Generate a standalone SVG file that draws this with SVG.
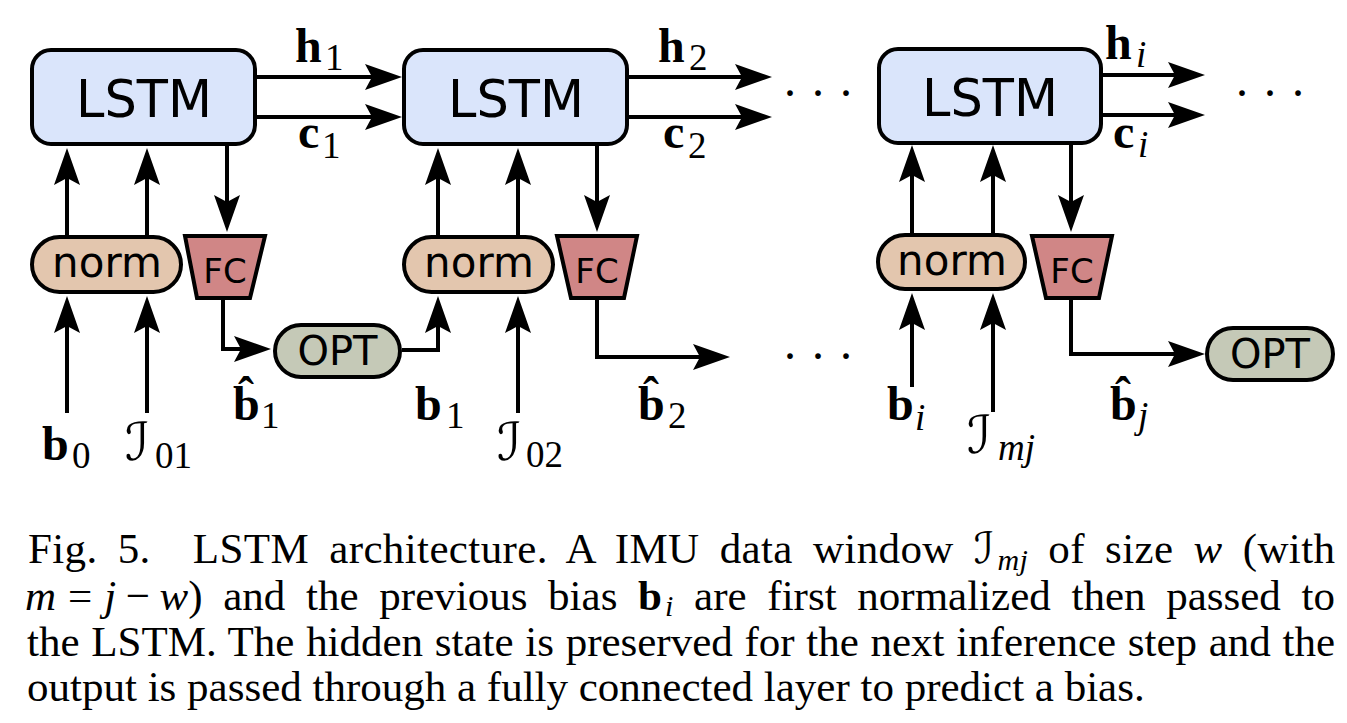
<svg xmlns="http://www.w3.org/2000/svg" width="1347" height="723" viewBox="0 0 1347 723">
<style>
.box{stroke:#000;stroke-width:4}
.lstm{fill:#dae5fb}
.norm{fill:#e3c6ae}
.fc{fill:#d08686}
.opt{fill:#c5c9b7}
.nt{font-family:"DejaVu Sans",sans-serif;fill:#000;text-anchor:middle}
.conn{fill:none;stroke:#000;stroke-width:4;marker-end:url(#ah)}
.m{font-family:"Liberation Serif",serif;font-weight:bold;font-size:48px}
.sub{font-family:"Liberation Serif",serif;font-size:37px;font-weight:normal}
.it{font-style:italic}
.cal{font-family:"DejaVu Sans",sans-serif;font-weight:normal}
.dots{font-family:"Liberation Serif",serif;font-size:48px;text-anchor:middle}
.cap{font-family:"Liberation Serif",serif;font-size:43px}
</style>
<defs>
<marker id="ah" markerUnits="userSpaceOnUse" viewBox="-30 -15 42 30" refX="0" refY="0" markerWidth="42" markerHeight="30" orient="auto" overflow="visible"><path d="M10,0 L-27,-13 L-20,0 L-27,13 Z" fill="#000"/></marker>
</defs>
<rect width="1347" height="723" fill="#fff"/>

<g id="lstm1"><rect class="box lstm" x="32" y="50" width="223" height="94" rx="19"/><text class="nt" x="144" y="117" font-size="51">LSTM</text></g>
<g id="lstm2"><rect class="box lstm" x="404" y="50" width="223" height="94" rx="19"/><text class="nt" x="516" y="117" font-size="51">LSTM</text></g>
<g id="lstm3"><rect class="box lstm" x="879" y="49" width="222" height="94" rx="19"/><text class="nt" x="990" y="116" font-size="51">LSTM</text></g>

<g id="norm1"><rect class="box norm" x="32" y="237" width="149" height="55" rx="27.5"/><text class="nt" x="107" y="277" font-size="42">norm</text></g>
<g id="norm2"><rect class="box norm" x="404" y="237" width="149" height="55" rx="27.5"/><text class="nt" x="479" y="277" font-size="42">norm</text></g>
<g id="norm3"><rect class="box norm" x="878" y="235" width="147" height="54" rx="27"/><text class="nt" x="952" y="275" font-size="42">norm</text></g>

<g id="fc1"><polygon class="box fc" points="185,236 265,236 250,298 197,298"/><text class="nt" x="225" y="283" font-size="34">FC</text></g>
<g id="fc2"><polygon class="box fc" points="557,236 637,236 624,298 571,298"/><text class="nt" x="597" y="283" font-size="34">FC</text></g>
<g id="fc3"><polygon class="box fc" points="1032,236 1112,236 1099,298 1046,298"/><text class="nt" x="1072" y="283" font-size="34">FC</text></g>

<g id="opt1"><rect class="box opt" x="275" y="325" width="125" height="52" rx="26"/><text class="nt" x="337.5" y="365" font-size="40">OPT</text></g>
<g id="opt3"><rect class="box opt" x="1207" y="328" width="126" height="52" rx="26"/><text class="nt" x="1270" y="368" font-size="40">OPT</text></g>

<g id="connectors">
<path class="conn" d="M257,77 H392"/>
<path class="conn" d="M257,117 H392"/>
<path class="conn" d="M629,77 H762"/>
<path class="conn" d="M629,117 H762"/>
<path class="conn" d="M1103,75 H1195"/>
<path class="conn" d="M1103,115 H1195"/>
<path class="conn" d="M67,235 V158"/>
<path class="conn" d="M147,235 V158"/>
<path class="conn" d="M227,146 V222"/>
<path class="conn" d="M67,413 V306"/>
<path class="conn" d="M147,413 V306"/>
<path class="conn" d="M223,300 V349 H261"/>
<path class="conn" d="M402,350 H438 V306"/>
<path class="conn" d="M438,235 V158"/>
<path class="conn" d="M518,235 V158"/>
<path class="conn" d="M597,146 V222"/>
<path class="conn" d="M518,413 V306"/>
<path class="conn" d="M597,300 V357 H720"/>
<path class="conn" d="M912,233 V155"/>
<path class="conn" d="M993,233 V155"/>
<path class="conn" d="M1071,145 V222"/>
<path class="conn" d="M912,387 V303"/>
<path class="conn" d="M993,412 V303"/>
<path class="conn" d="M1071,300 V354 H1195"/>
</g>

<g id="labels">
<text class="m" x="295" y="62">h<tspan class="sub" x="325" y="70">1</tspan></text>
<text class="m" x="298" y="148">c<tspan class="sub" x="322" y="158">1</tspan></text>
<text class="m" x="658" y="62">h<tspan class="sub" x="689" y="70">2</tspan></text>
<text class="m" x="663" y="148">c<tspan class="sub" x="688" y="158">2</tspan></text>
<text class="m" x="1105" y="59">h<tspan class="sub it" x="1136" y="67">i</tspan></text>
<text class="m" x="1113" y="148">c<tspan class="sub it" x="1138" y="157">i</tspan></text>
<text class="m" x="233" y="420">b̂<tspan class="sub" x="261" y="428">1</tspan></text>
<text class="m" x="42" y="460">b<tspan class="sub" x="72" y="468">0</tspan></text>
<text class="m" x="125" y="460"><tspan class="cal" font-size="52">ℐ</tspan><tspan class="sub" x="155" y="468">01</tspan></text>
<text class="m" x="415" y="420">b<tspan class="sub" x="446" y="428">1</tspan></text>
<text class="m" x="497" y="460"><tspan class="cal" font-size="52">ℐ</tspan><tspan class="sub" x="526" y="467">02</tspan></text>
<text class="m" x="638" y="420">b̂<tspan class="sub" x="668" y="428">2</tspan></text>
<text class="m" x="887" y="420">b<tspan class="sub it" x="915" y="430">i</tspan></text>
<text class="m" x="967" y="453"><tspan class="cal" font-size="52">ℐ</tspan><tspan class="sub it" x="998" y="460">mj</tspan></text>
<text class="m" x="1110" y="420">b̂<tspan class="sub it" x="1138" y="428">j</tspan></text>
<text class="dots" x="818" y="109">· · ·</text>
<text class="dots" x="818" y="372">· · ·</text>
<text class="dots" x="1270" y="109">· · ·</text>
</g>

<g id="caption">
<text class="cap" x="28" y="563" textLength="1307" lengthAdjust="spacing" word-spacing="9">Fig. 5. <tspan dx="22">LSTM</tspan> architecture. A IMU data window <tspan class="cal">ℐ</tspan><tspan class="it" font-size="30" dx="3" dy="7">mj</tspan><tspan dy="-7"> of size </tspan><tspan class="it">w</tspan> (with</text>
<text class="cap" x="25" y="610" textLength="1310" lengthAdjust="spacing" word-spacing="10"><tspan class="it">m</tspan><tspan dx="12">=</tspan><tspan class="it" dx="12">j</tspan><tspan dx="9.5">−</tspan><tspan class="it" dx="9.5">w</tspan>) and the previous bias <tspan font-weight="bold">b</tspan><tspan class="it" font-size="30" dx="3" dy="6">i</tspan><tspan dy="-6"> are first normalized then passed to</tspan></text>
<text class="cap" x="27" y="656" textLength="1308" lengthAdjust="spacing" word-spacing="1">the LSTM. The hidden state is preserved for the next inference step and the</text>
<text class="cap" x="27" y="701">output is passed through a fully connected layer to predict a bias.</text>
</g>
</svg>
